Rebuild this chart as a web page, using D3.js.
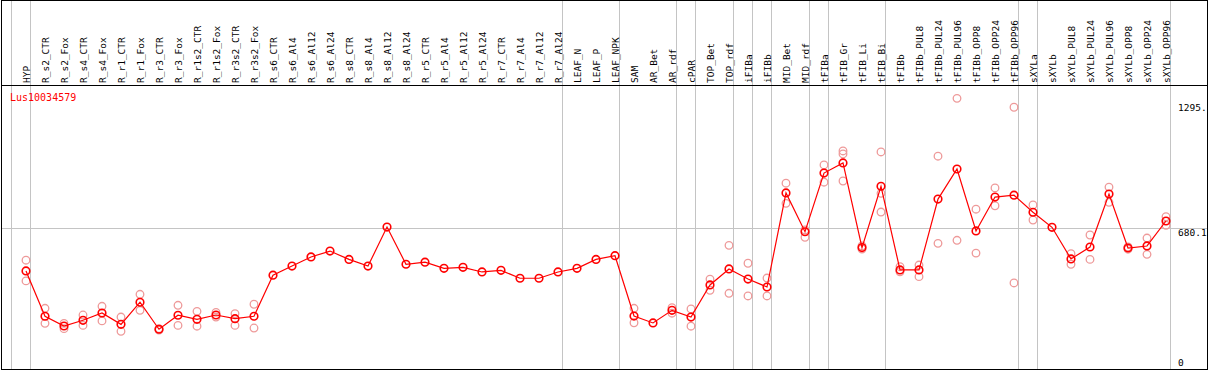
<!DOCTYPE html>
<html>
<head>
<meta charset="utf-8">
<script src="https://cdn.jsdelivr.net/npm/d3@7"></script>
<style>
  body { margin: 0; background: #fff; }
  svg { display: block; }
  text { font-family: "DejaVu Sans Mono", monospace; font-size: 9.5px; }
</style>
</head>
<body>
<div id="chart"></div>
<script>
// sample names (columns)
const samples = ["HYP", "R_s2_CTR", "R_s2_Fox", "R_s4_CTR", "R_s4_Fox", "R_r1_CTR", "R_r1_Fox",
  "R_r3_CTR", "R_r3_Fox", "R_r1s2_CTR", "R_r1s2_Fox", "R_r3s2_CTR", "R_r3s2_Fox",
  "R_s6_CTR", "R_s6_Al4", "R_s6_Al12", "R_s6_Al24", "R_s8_CTR", "R_s8_Al4", "R_s8_Al12", "R_s8_Al24",
  "R_r5_CTR", "R_r5_Al4", "R_r5_Al12", "R_r5_Al24", "R_r7_CTR", "R_r7_Al4", "R_r7_Al12", "R_r7_Al24",
  "LEAF_N", "LEAF_P", "LEAF_NPK", "SAM", "AR_Bet", "AR_rdf", "cPAR", "TOP_Bet", "TOP_rdf",
  "iFIBa", "iFIBb", "MID_Bet", "MID_rdf", "tFIBa", "tFIB_Gr", "tFIB_Li", "tFIB_Bi", "tFIBb",
  "tFIBb_PUL8", "tFIBb_PUL24", "tFIBb_PUL96", "tFIBb_OPP8", "tFIBb_OPP24", "tFIBb_OPP96",
  "sXYLa", "sXYLb", "sXYLb_PUL8", "sXYLb_PUL24", "sXYLb_PUL96", "sXYLb_OPP8", "sXYLb_OPP24", "sXYLb_OPP96"];

// mean expression
const meanVals = [468, 245, 197, 225, 261, 205, 314, 181, 250, 230, 251, 233, 245,
  447, 492, 537, 566, 525, 492, 684, 501, 511, 481, 486, 463, 471, 432, 432, 463,
  481, 525, 543, 246, 212, 274, 241, 399, 478, 428, 389, 852, 661, 950, 1000, 583, 885, 473,
  473, 822, 970, 665, 832, 841, 757, 683, 527, 586, 847, 581, 591, 714];

// replicates (null = not shown)
const rep1 = [521, 284, 210, 251, 294, 241, 353, 184, 299, 269, 264, 258, 304,
  null, null, null, null, null, null, null, null, null, null, null, null, null, null, null, null,
  null, null, null, 284, null, 287, 281, 428, 594, 506, 433, 900, 670, 990, 1059, 591, 1054, 489,
  497, 1033, 1318, 772, 877, 1274, 793, null, 553, 645, 881, 586, 630, 735];
const rep2 = [419, 210, 184, 200, 222, 171, 274, 177, 200, 196, 241, 200, 187,
  null, null, null, null, null, null, null, null, null, null, null, null, null, null, null, null,
  null, null, null, 213, null, 260, 196, 373, 358, 345, 345, 801, 634, 905, 911, 576, 758, 464,
  440, 604, 619, 556, 789, 409, 719, null, 501, 525, 806, 575, 550, 693];
const rep3 = [null, null, null, null, null, null, null, null, null, null, null, null, null,
  null, null, null, null, null, null, null, null, null, null, null, null, null, null, null, null,
  null, null, null, null, null, null, null, null, null, null, null, null, null, null, 1044, null, 850, null,
  null, null, null, null, null, null, null, null, null, null, null, null, null, null];

// last sample of each group (vertical separators)
const groupEnds = ["HYP", "R_r7_Al24", "LEAF_NPK", "AR_rdf", "cPAR", "TOP_rdf", "iFIBa", "iFIBb",
  "MID_rdf", "tFIBa", "tFIB_Bi", "tFIBb_OPP96", "sXYLa", "sXYLb_OPP96"];

const yTicks = [0, 680.1, 1295];
const yTickLabels = ["0", "680.1", "1295."];
const geneName = "Lus10034579";

const width = 1209, height = 370;
const headerY = 85, bottomY = 369, rightX = 1207;

const x = d3.scalePoint().domain(samples).range([26, 1166]);
const step = x.step();
const y = d3.scaleLinear().domain([0, 1295]).range([366, 103]);

const svg = d3.select("#chart").append("svg")
  .attr("width", width)
  .attr("height", height);

// group separators (incl. one before first column)
const sepX = [x(samples[0]) - step + 4].concat(groupEnds.map(s => x(s) + 4));
svg.selectAll("line.sep")
  .data(sepX)
  .enter()
  .append("line")
  .attr("class", "sep")
  .attr("x1", d => Math.round(d) + 0.5)
  .attr("x2", d => Math.round(d) + 0.5)
  .attr("y1", 0)
  .attr("y2", bottomY)
  .attr("stroke", "#c4c4c4")
  .attr("shape-rendering", "crispEdges");

// horizontal grid at middle tick
svg.append("line")
  .attr("x1", 1).attr("x2", rightX)
  .attr("y1", Math.round(y(yTicks[1])) + 0.5)
  .attr("y2", Math.round(y(yTicks[1])) + 0.5)
  .attr("stroke", "#c4c4c4")
  .attr("shape-rendering", "crispEdges");

// borders
svg.append("rect")
  .attr("x", 1.5).attr("y", 0.5)
  .attr("width", rightX - 1.5).attr("height", bottomY - 0.5)
  .attr("fill", "none")
  .attr("stroke", "#000")
  .attr("shape-rendering", "crispEdges");
svg.append("line")
  .attr("x1", 1).attr("x2", rightX)
  .attr("y1", headerY + 0.5).attr("y2", headerY + 0.5)
  .attr("stroke", "#000")
  .attr("shape-rendering", "crispEdges");

// rotated sample labels
svg.selectAll("text.lab")
  .data(samples)
  .enter()
  .append("text")
  .attr("class", "lab")
  .attr("transform", d => `translate(${x(d) + 3.5},${headerY - 2}) rotate(-90)`)
  .attr("fill", "#000")
  .text(d => d);

// gene name
svg.append("text")
  .attr("x", 10).attr("y", 101)
  .attr("fill", "#ff0000")
  .style("font-size", "10px")
  .text(geneName);

// right axis labels
svg.selectAll("text.ytick")
  .data(yTicks)
  .enter()
  .append("text")
  .attr("class", "ytick")
  .attr("x", 1178)
  .attr("y", d => Math.min(y(d) + 8, 366))
  .attr("fill", "#000")
  .text((d, i) => yTickLabels[i]);

// replicate points
const reps = [];
[rep1, rep2, rep3].forEach(arr => arr.forEach((v, i) => {
  if (v !== null) reps.push({ s: samples[i], v: v });
}));
svg.selectAll("circle.rep")
  .data(reps)
  .enter()
  .append("circle")
  .attr("class", "rep")
  .attr("cx", d => x(d.s))
  .attr("cy", d => y(d.v))
  .attr("r", 3.8)
  .attr("fill", "none")
  .attr("stroke", "#ee9a9a")
  .attr("stroke-width", 1.3);

// mean line
const line = d3.line()
  .x((d, i) => x(samples[i]))
  .y(d => y(d));
svg.append("path")
  .datum(meanVals)
  .attr("d", line)
  .attr("fill", "none")
  .attr("stroke", "#ff0000")
  .attr("stroke-width", 1.2);

// mean points
svg.selectAll("circle.mean")
  .data(meanVals)
  .enter()
  .append("circle")
  .attr("class", "mean")
  .attr("cx", (d, i) => x(samples[i]))
  .attr("cy", d => y(d))
  .attr("r", 3.8)
  .attr("fill", "none")
  .attr("stroke", "#ff0000")
  .attr("stroke-width", 1.6);
</script>
</body>
</html>
